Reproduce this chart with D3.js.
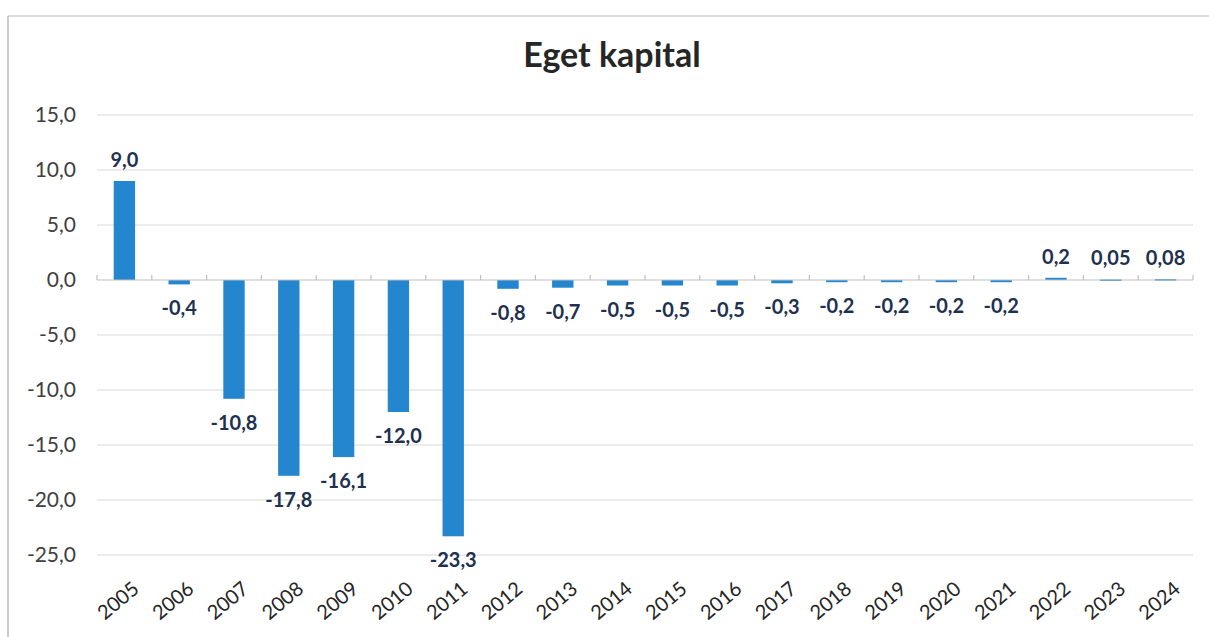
<!DOCTYPE html>
<html>
<head>
<meta charset="utf-8">
<script src="https://cdn.jsdelivr.net/npm/d3@7"></script>
<style>
  body { margin: 0; background: #fff; }
  svg { font-family: Lato, "Open Sans", sans-serif; }
</style>
</head>
<body>
<div id="chart"></div>
<script>
const years = ['2005','2006','2007','2008','2009','2010','2011','2012','2013','2014',
  '2015','2016','2017','2018','2019','2020','2021','2022','2023','2024'];
const values = [9.0, -0.4, -10.8, -17.8, -16.1, -12.0, -23.3, -0.8, -0.7, -0.5,
  -0.5, -0.5, -0.3, -0.2, -0.2, -0.2, -0.2, 0.2, 0.05, 0.08];
const labels = ['9,0','-0,4','-10,8','-17,8','-16,1','-12,0','-23,3','-0,8','-0,7','-0,5',
  '-0,5','-0,5','-0,3','-0,2','-0,2','-0,2','-0,2','0,2','0,05','0,08'];
const yTicks = [15, 10, 5, 0, -5, -10, -15, -20, -25];

const width = 1209, height = 637;
const svg = d3.select('#chart').append('svg')
  .attr('width', width).attr('height', height);

// frame of the chart area (only top and left show in the scan)
svg.append('line').attr('x1', 8).attr('x2', width).attr('y1', 16).attr('y2', 16)
  .attr('stroke', '#cfcfcf').attr('stroke-width', 1.5);
svg.append('line').attr('x1', 8).attr('x2', 8).attr('y1', 16).attr('y2', height)
  .attr('stroke', '#bdbdbd').attr('stroke-width', 1.5);

const xScale = d3.scaleBand()
  .domain(years)
  .range([97, 1193])
  .paddingInner(0.61)
  .paddingOuter(0.305);

const yScale = d3.scaleLinear()
  .domain([-25, 15])
  .range([555, 115]);

// title
svg.append('text')
  .attr('x', 612).attr('y', 67)
  .attr('text-anchor', 'middle')
  .attr('font-size', 34).attr('font-weight', 'bold')
  .attr('fill', '#262626')
  .text('Eget kapital');

// gridlines + y labels
svg.append('g').selectAll('line')
  .data(yTicks.filter(t => t !== 0))
  .enter().append('line')
  .attr('x1', 97).attr('x2', 1193)
  .attr('y1', d => yScale(d)).attr('y2', d => yScale(d))
  .attr('stroke', '#d9d9d9').attr('stroke-width', 1.2);

svg.append('g').selectAll('text')
  .data(yTicks)
  .enter().append('text')
  .attr('x', 76).attr('y', d => yScale(d) + 7)
  .attr('text-anchor', 'end')
  .attr('font-size', 21).attr('fill', '#404040')
  .text(d => d3.format('.1f')(d).replace('.', ',').replace('−', '-'));

// bars
svg.append('g').selectAll('.bar')
  .data(values)
  .enter().append('rect')
  .classed('bar', true)
  .attr('x', (d, i) => xScale(years[i]))
  .attr('width', xScale.bandwidth())
  .attr('y', d => yScale(Math.max(0, d)))
  .attr('height', d => Math.max(1.5, Math.abs(yScale(d) - yScale(0))))
  .attr('fill', '#2486cf');

// zero axis with tick marks between categories
svg.append('line')
  .attr('x1', 97).attr('x2', 1193)
  .attr('y1', yScale(0)).attr('y2', yScale(0))
  .attr('stroke', '#bfbfbf').attr('stroke-width', 1.2);

const step = xScale.step();
svg.append('g').selectAll('line')
  .data(d3.range(years.length + 1))
  .enter().append('line')
  .attr('x1', i => 97 + i * step).attr('x2', i => 97 + i * step)
  .attr('y1', yScale(0)).attr('y2', yScale(0) - 5)
  .attr('stroke', '#bfbfbf').attr('stroke-width', 1.2);

// data labels
svg.append('g').selectAll('text')
  .data(values)
  .enter().append('text')
  .attr('x', (d, i) => xScale(years[i]) + xScale.bandwidth() / 2)
  .attr('y', d => d >= 0 ? yScale(d) - 14 : yScale(d) + 31)
  .attr('text-anchor', 'middle')
  .attr('font-size', 20).attr('font-weight', 'bold')
  .attr('fill', '#1f3150')
  .text((d, i) => labels[i]);

// x labels, rotated
svg.append('g').selectAll('text')
  .data(years)
  .enter().append('text')
  .attr('transform', d => `translate(${xScale(d) + xScale.bandwidth() / 2 + 16},${yScale(-25) + 36}) rotate(-40)`)
  .attr('text-anchor', 'end')
  .attr('font-size', 20).attr('fill', '#262626')
  .text(d => d);
</script>
</body>
</html>
